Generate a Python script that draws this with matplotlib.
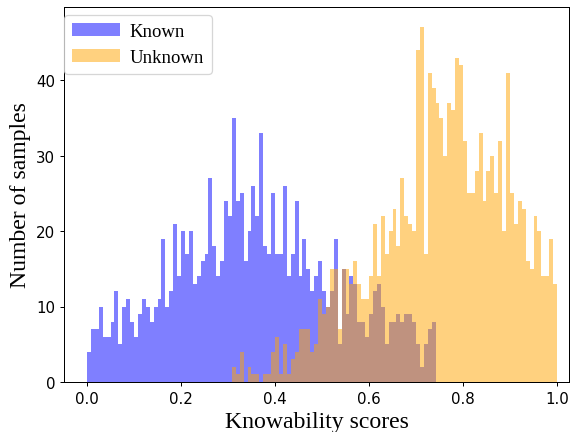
import numpy as np
import matplotlib
matplotlib.use('Agg')
import matplotlib.pyplot as plt

# histogram counts, shared bin grid of 120 bins on [0, 1]
n_bins = 120
known = [4, 7, 7, 10, 6, 6, 8, 12, 5, 10,
         11, 8, 6, 9, 11, 10, 8, 10, 11, 19,
         10, 12, 21, 14, 20, 17, 20, 13, 14, 16,
         17, 27, 18, 14, 16, 24, 22, 35, 24, 25,
         16, 20, 26, 22, 33, 18, 17, 25, 17, 17,
         26, 14, 17, 24, 14, 19, 15, 12, 14, 16,
         12, 10, 12, 19, 5, 15, 9, 14, 13, 8,
         8, 6, 9, 12, 13, 10, 5, 8, 8, 9,
         8, 9, 9, 8, 5, 2, 5, 7, 8]
unknown = [2, 1, 4, 0, 2, 1, 1, 0, 1, 1,
           4, 6, 1, 5, 1, 3, 4, 7, 7, 7,
           4, 5, 11, 9, 10, 15, 15, 7, 15, 15,
           13, 16, 13, 11, 11, 14, 21, 14, 22, 17,
           20, 23, 18, 27, 22, 21, 20, 44, 47, 17,
           41, 39, 37, 35, 30, 37, 36, 43, 42, 32,
           25, 25, 28, 33, 24, 28, 30, 25, 32, 20,
           41, 25, 21, 24, 23, 16, 15, 22, 20, 14,
           14, 19, 13]

edges = np.linspace(0, 1, n_bins + 1)
known_edges = edges[:len(known) + 1]
unknown_edges = edges[-(len(unknown) + 1):]

fig = plt.figure(figsize=(6.4, 4.81), dpi=90)
ax = fig.add_axes([64 / 576, 1 - 383 / 433, 505 / 576, 375 / 433])
ax.hist(known_edges[:-1], bins=known_edges, weights=known, histtype='stepfilled',
        color='blue', alpha=0.5, label='Known')
ax.hist(unknown_edges[:-1], bins=unknown_edges, weights=unknown, histtype='stepfilled',
        color='orange', alpha=0.5, label='Unknown')

ax.set_xlim(-23 / 470, 1 + 12 / 470)
ax.set_ylim(0, 49.7)
ax.set_xlabel('Knowability scores', fontsize=19, family='Liberation Serif')
ax.set_ylabel('Number of samples', fontsize=19, family='Liberation Serif')
ax.tick_params(labelsize=12)
ax.legend(loc='upper left', bbox_to_anchor=(0.0, 0.978), borderaxespad=0,
          handlelength=2.6, handletextpad=0.5,
          prop={'family': 'Liberation Serif', 'size': 15})
fig.savefig('out.png', dpi=90)
